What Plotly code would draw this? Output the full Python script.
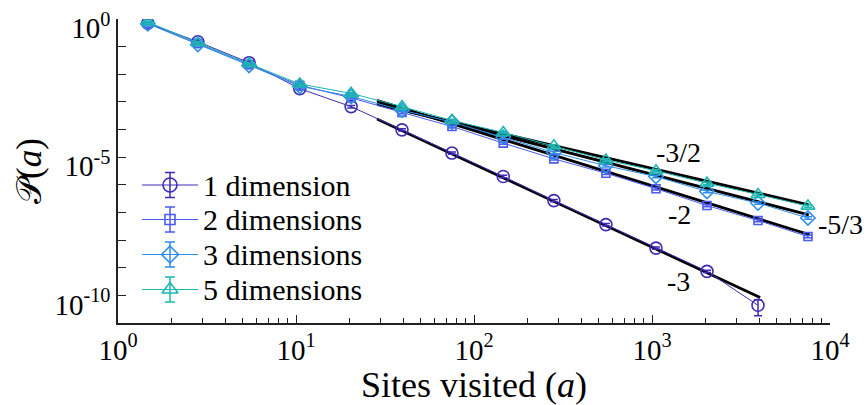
import math
import plotly.graph_objects as go

# Number of distinct sites visited (bin centres)
sites = [1.47, 2.81, 5.45, 10.5, 20.4, 39.4, 75.2, 146, 281, 551, 1053, 2037, 3940, 7520]

# Probability P(a) per lattice dimension
p_1d = [0.708, 0.151, 0.0263, 3.02e-3, 6.76e-4, 9.77e-5, 1.41e-5, 2.0e-6, 2.69e-7,
        3.63e-8, 5.13e-9, 7.41e-10, 4.37e-11]
p_2d = [0.708, 0.132, 0.0229, 3.98e-3, 1.41e-3, 4.17e-4, 1.29e-4, 3.24e-5, 8.71e-6,
        2.63e-6, 7.24e-7, 1.78e-7, 5.13e-8, 1.35e-8]
p_3d = [0.676, 0.120, 0.0209, 3.72e-3, 1.58e-3, 5.01e-4, 1.86e-4, 5.25e-5, 1.48e-5,
        4.90e-6, 2.0e-6, 5.75e-7, 2.19e-7, 6.31e-8]
p_5d = [0.776, 0.138, 0.0240, 4.47e-3, 2.04e-3, 6.76e-4, 2.14e-4, 7.76e-5, 2.57e-5,
        7.94e-6, 3.24e-6, 1.15e-6, 4.47e-7, 1.70e-7]

# Standard errors (absolute)
err_1d = [0.071, 0.015, 0.0026, 3.0e-4, 6.8e-5, 9.8e-6, 1.4e-6, 2.0e-7, 2.7e-8,
          3.6e-9, 5.1e-10, 7.4e-11, 2.55e-11]
err_2d = [0.071, 0.013, 0.0023, 4.0e-4, 1.4e-4, 4.2e-5, 1.3e-5, 3.2e-6, 8.7e-7,
          2.6e-7, 7.2e-8, 1.8e-8, 5.1e-9, 1.4e-9]
err_3d = [0.068, 0.012, 0.0021, 3.7e-4, 1.6e-4, 5.0e-5, 1.9e-5, 5.3e-6, 1.5e-6,
          4.9e-7, 2.0e-7, 5.8e-8, 2.2e-8, 6.3e-9]
err_5d = [0.078, 0.014, 0.0024, 4.5e-4, 2.0e-4, 6.8e-5, 2.1e-5, 7.8e-6, 2.6e-6,
          7.9e-7, 3.2e-7, 1.2e-7, 4.5e-8, 1.7e-8]

series_names = ["1 dimension", "2 dimensions", "3 dimensions", "5 dimensions"]
series_colors = ["#3D2CB6", "#4B5AF0", "#2E8DE8", "#1DB6B0"]
series_symbols = ["circle-open", "square-open", "diamond-open", "triangle-up-open"]
series_sizes = [12, 8, 11, 12]

# Power-law guides: label, exponent, prefactor, extent in a
guide_labels = ["-3", "-2", "-5/3", "-3/2"]
guide_exponents = [-3.0, -2.0, -5.0 / 3.0, -1.5]
guide_prefactors = [5.56, 0.925, 0.240, 0.124]
guide_start = [28.5, 28.5, 28.5, 28.5]
guide_end = [4050, 7700, 7600, 7600]
# label anchor (a, P)
label_a = [1400, 1420, 11400, 1400]
label_p = [3.2e-10, 8.3e-8, 3.6e-8, 1.45e-5]

FONT = "Liberation Serif"
X_DECADES = (0, 4)

fig = go.Figure()

# guide lines underneath the data
for k, lab in enumerate(guide_labels):
    xs = [guide_start[k], guide_end[k]]
    ys = [guide_prefactors[k] * x ** guide_exponents[k] for x in xs]
    fig.add_trace(go.Scatter(
        x=xs, y=ys, mode="lines", showlegend=False, hoverinfo="skip",
        line=dict(color="black", width=2.8),
    ))

values = [p_1d, p_2d, p_3d, p_5d]
errors = [err_1d, err_2d, err_3d, err_5d]
for k in range(4):
    n = len(values[k])
    fig.add_trace(go.Scatter(
        x=sites[:n], y=values[k], name=series_names[k],
        mode="lines+markers", showlegend=False,
        line=dict(color=series_colors[k], width=1),
        marker=dict(symbol=series_symbols[k], size=series_sizes[k],
                    color=series_colors[k], line=dict(width=1.6, color=series_colors[k])),
        error_y=dict(type="data", array=errors[k], visible=True,
                     color=series_colors[k], thickness=1.5, width=4),
    ))

# slope labels (x given as a fraction of the log axis so labels past the end still show)
for k, lab in enumerate(guide_labels):
    fig.add_annotation(
        x=(math.log10(label_a[k]) - X_DECADES[0]) / (X_DECADES[1] - X_DECADES[0]),
        y=math.log10(label_p[k]), xref="paper", yref="y",
        xanchor="center", yanchor="middle",
        text=lab, showarrow=False, font=dict(family=FONT, size=28, color="black"),
    )

# Legend drawn on an overlay axis measured in pixels of the plot area
leg_x0, leg_x1, leg_xm, leg_text_x = 142, 198, 170, 201
leg_rows = [185, 219.5, 254.5, 289.5]
leg_err = 12.5
for k in range(4):
    yk = leg_rows[k]
    fig.add_trace(go.Scatter(
        x=[leg_x0, leg_x1], y=[yk, yk], xaxis="x2", yaxis="y2", mode="lines",
        showlegend=False, hoverinfo="skip",
        line=dict(color=series_colors[k], width=1),
    ))
    fig.add_trace(go.Scatter(
        x=[leg_xm], y=[yk], xaxis="x2", yaxis="y2", mode="markers",
        showlegend=False, hoverinfo="skip",
        marker=dict(symbol=series_symbols[k], size=series_sizes[k] + 2,
                    color=series_colors[k], line=dict(width=1.6, color=series_colors[k])),
        error_y=dict(type="constant", value=leg_err, visible=True,
                     color=series_colors[k], thickness=1.5, width=5),
    ))
    fig.add_annotation(
        x=leg_text_x, y=yk, xref="x2", yref="y2", xanchor="left", yanchor="middle",
        text=series_names[k], showarrow=False,
        font=dict(family=FONT, size=30, color="black"),
    )

y_tick_vals = [1e0, 1e-5, 1e-10]
y_tick_text = ["10<sup>0</sup>", "10<sup>-5</sup>", "10<sup>-10</sup>"]
x_tick_vals = [1, 10, 100, 1000, 10000]
x_tick_text = ["10<sup>0</sup>", "10<sup>1</sup>", "10<sup>2</sup>", "10<sup>3</sup>",
               "10<sup>4</sup>"]

fig.update_xaxes(
    type="log", range=list(X_DECADES), automargin=False,
    tickvals=x_tick_vals, ticktext=x_tick_text,
    ticks="inside", ticklen=8, tickwidth=1.2, tickcolor="#222",
    minor=dict(ticks="inside", ticklen=5, tickwidth=1, tickcolor="#222",
               dtick="D1", showgrid=False),
    showline=True, linecolor="#222", linewidth=1.5,
    showgrid=False, zeroline=False, ticklabeloverflow="allow",
    tickfont=dict(family=FONT, size=29, color="black"),
    title=dict(text="Sites visited (<i>a</i>)",
               font=dict(family=FONT, size=36, color="black"), standoff=2),
)
fig.update_yaxes(
    type="log", range=[-11, 0.0005], automargin=False,
    tickvals=y_tick_vals, ticktext=y_tick_text,
    ticks="inside", ticklen=8, tickwidth=1.2, tickcolor="#222",
    minor=dict(ticks="inside", ticklen=8, tickwidth=1.2, tickcolor="#222",
               dtick=1, tick0=0, showgrid=False),
    showline=True, linecolor="#222", linewidth=1.5,
    showgrid=False, zeroline=False, ticklabeloverflow="allow", ticklabelshift=9,
    tickfont=dict(family=FONT, size=29, color="black"),
    title=dict(text="𝒫(<i>a</i>)", font=dict(family=FONT, size=35, color="black"),
               standoff=2),
)

fig.update_layout(
    width=868, height=405,
    margin=dict(l=118, r=38, t=19, b=82),
    paper_bgcolor="white", plot_bgcolor="white",
    showlegend=False,
    xaxis2=dict(overlaying="x", range=[118, 830], visible=False, fixedrange=True),
    yaxis2=dict(overlaying="y", range=[323, 19], visible=False, fixedrange=True),
)

fig.write_html("out.html")
